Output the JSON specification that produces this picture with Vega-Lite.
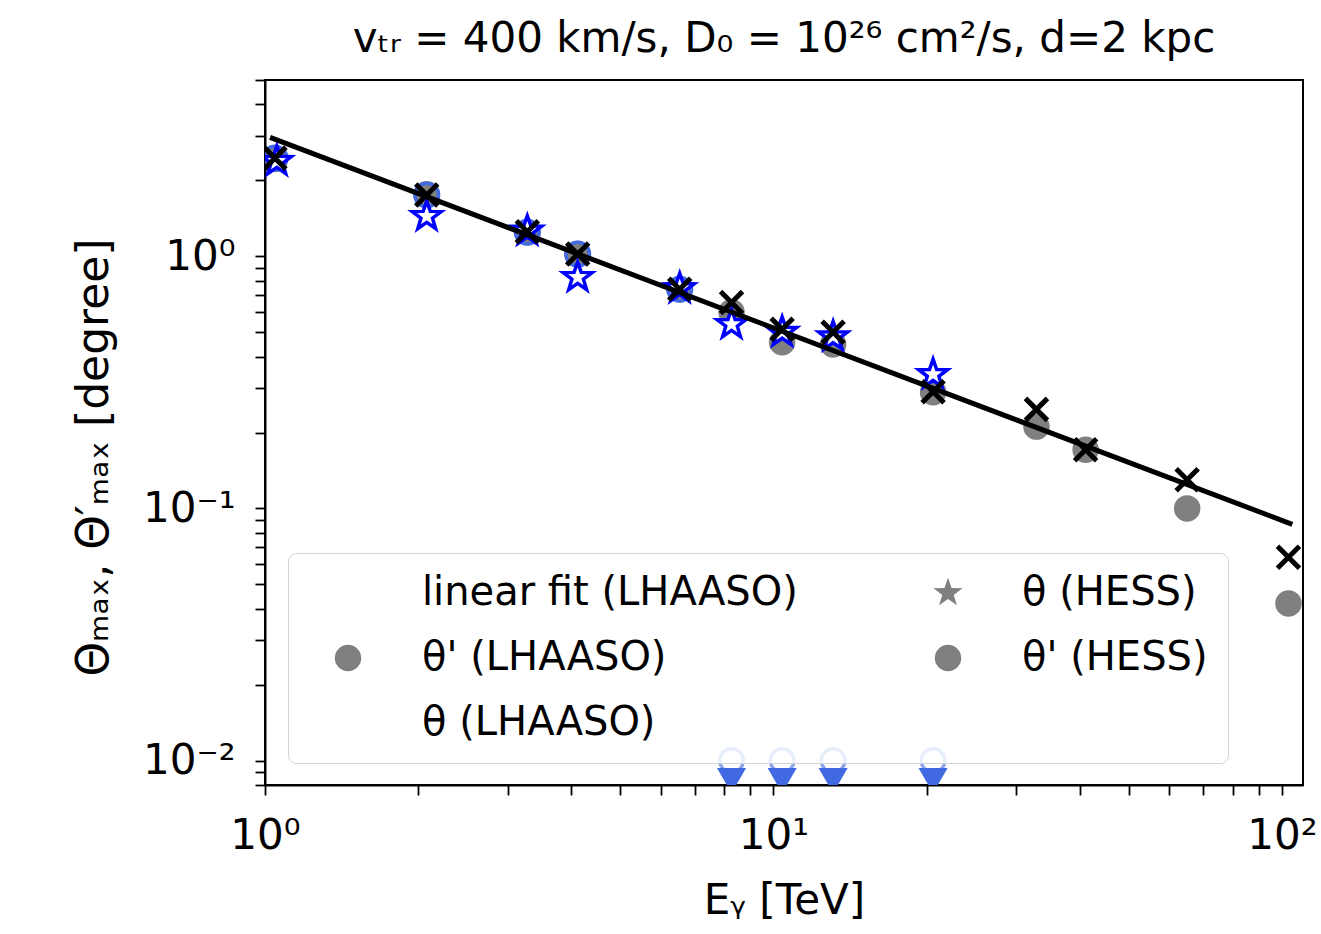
{
  "$schema": "https://vega.github.io/schema/vega-lite/v6.json",
  "width": 1038,
  "height": 705,
  "autosize": "none",
  "padding": {"left": 265, "top": 80, "right": 18, "bottom": 149},
  "background": "white",
  "config": {
    "font": "DejaVu Sans",
    "view": {"stroke": "black", "strokeWidth": 2},
    "axis": {"grid": false, "domainColor": "black", "domainWidth": 2, "tickColor": "black", "tickWidth": 1.8, "labelColor": "black", "titleColor": "black", "labelFont": "DejaVu Sans", "titleFont": "DejaVu Sans", "titleFontWeight": "normal", "labelFlush": false, "labelOverlap": false, "labelBound": false, "tickSize": 10}
  },
  "title": {"text": "vₜᵣ = 400 km/s, D₀ = 10²⁶ cm²/s, d=2 kpc", "fontSize": 42, "fontWeight": "normal", "font": "DejaVu Sans", "color": "black", "anchor": "middle", "offset": -2},
  "data": {"values": [
    {"E": 1.023, "theta": 2.96, "series": "linear fit (LHAASO)"},
    {"E": 104.8, "theta": 0.0865, "series": "linear fit (LHAASO)"},
    {"E": 1.046, "theta": 2.43, "series": "θ' (LHAASO)"},
    {"E": 2.08, "theta": 1.76, "series": "θ' (LHAASO)"},
    {"E": 3.28, "theta": 1.245, "series": "θ' (LHAASO)"},
    {"E": 4.12, "theta": 1.02, "series": "θ' (LHAASO)"},
    {"E": 6.54, "theta": 0.74, "series": "θ' (LHAASO)"},
    {"E": 8.27, "theta": 0.6, "series": "θ' (LHAASO)"},
    {"E": 10.4, "theta": 0.456, "series": "θ' (LHAASO)"},
    {"E": 13.1, "theta": 0.447, "series": "θ' (LHAASO)"},
    {"E": 20.6, "theta": 0.289, "series": "θ' (LHAASO)"},
    {"E": 32.9, "theta": 0.211, "series": "θ' (LHAASO)"},
    {"E": 41.1, "theta": 0.171, "series": "θ' (LHAASO)"},
    {"E": 65.1, "theta": 0.1, "series": "θ' (LHAASO)"},
    {"E": 103, "theta": 0.042, "series": "θ' (LHAASO)"},
    {"E": 1.046, "theta": 2.45, "series": "θ (LHAASO)"},
    {"E": 2.08, "theta": 1.75, "series": "θ (LHAASO)"},
    {"E": 3.28, "theta": 1.25, "series": "θ (LHAASO)"},
    {"E": 4.12, "theta": 1.02, "series": "θ (LHAASO)"},
    {"E": 6.54, "theta": 0.74, "series": "θ (LHAASO)"},
    {"E": 8.27, "theta": 0.656, "series": "θ (LHAASO)"},
    {"E": 10.4, "theta": 0.513, "series": "θ (LHAASO)"},
    {"E": 13.1, "theta": 0.5, "series": "θ (LHAASO)"},
    {"E": 20.6, "theta": 0.29, "series": "θ (LHAASO)"},
    {"E": 32.9, "theta": 0.247, "series": "θ (LHAASO)"},
    {"E": 41.1, "theta": 0.171, "series": "θ (LHAASO)"},
    {"E": 65.1, "theta": 0.13, "series": "θ (LHAASO)"},
    {"E": 103, "theta": 0.064, "series": "θ (LHAASO)"},
    {"E": 1.055, "theta": 2.38, "series": "θ (HESS)"},
    {"E": 2.08, "theta": 1.44, "series": "θ (HESS)"},
    {"E": 3.28, "theta": 1.26, "series": "θ (HESS)"},
    {"E": 4.12, "theta": 0.825, "series": "θ (HESS)"},
    {"E": 6.54, "theta": 0.745, "series": "θ (HESS)"},
    {"E": 8.27, "theta": 0.537, "series": "θ (HESS)"},
    {"E": 10.4, "theta": 0.5, "series": "θ (HESS)"},
    {"E": 13.1, "theta": 0.48, "series": "θ (HESS)"},
    {"E": 20.6, "theta": 0.34, "series": "θ (HESS)"},
    {"E": 1.046, "theta": 2.45, "series": "θ' (HESS)", "limit": false},
    {"E": 2.08, "theta": 1.75, "series": "θ' (HESS)", "limit": false},
    {"E": 3.28, "theta": 1.245, "series": "θ' (HESS)", "limit": false},
    {"E": 4.12, "theta": 1.02, "series": "θ' (HESS)", "limit": false},
    {"E": 6.54, "theta": 0.74, "series": "θ' (HESS)", "limit": false},
    {"E": 8.27, "theta": 0.01, "series": "θ' (HESS)", "limit": true},
    {"E": 10.4, "theta": 0.01, "series": "θ' (HESS)", "limit": true},
    {"E": 13.1, "theta": 0.01, "series": "θ' (HESS)", "limit": true},
    {"E": 20.6, "theta": 0.01, "series": "θ' (HESS)", "limit": true}
  ]},
  "encoding": {
    "x": {"field": "E", "type": "quantitative",
      "scale": {"type": "log", "domain": [1, 110], "nice": false},
      "axis": {"title": "Eᵧ [TeV]", "titleFontSize": 42, "titlePadding": 24, "labelFontSize": 42, "labelPadding": 20,
        "values": [1,2,3,4,5,6,7,8,9,10,20,30,40,50,60,70,80,90,100],
        "labelExpr": "abs(log(datum.value)/LN10 - round(log(datum.value)/LN10)) < 0.001 ? '10' + (round(log(datum.value)/LN10) == 0 ? '⁰' : round(log(datum.value)/LN10) == 1 ? '¹' : '²') : ''",
        "encode": {"ticks": {"y2": {"value": {"expr": "abs(log(datum.value)/LN10 - round(log(datum.value)/LN10)) < 0.001 ? 10 : 6"}}}}}},
    "y": {"field": "theta", "type": "quantitative",
      "scale": {"type": "log", "domain": [0.008, 5], "nice": false},
      "axis": {"title": "Θₘₐₓ, Θ′ₘₐₓ [degree]", "titleFontSize": 44, "titlePadding": 26, "titleY": 377, "labelFontSize": 42, "labelPadding": 20,
        "values": [0.008,0.009,0.01,0.02,0.03,0.04,0.05,0.06,0.07,0.08,0.09,0.1,0.2,0.3,0.4,0.5,0.6,0.7,0.8,0.9,1,2,3,4,5],
        "labelExpr": "abs(log(datum.value)/LN10 - round(log(datum.value)/LN10)) < 0.001 ? '10' + (round(log(datum.value)/LN10) == 0 ? '⁰' : round(log(datum.value)/LN10) == -1 ? '⁻¹' : '⁻²') : ''",
        "encode": {"ticks": {"x2": {"value": {"expr": "abs(log(datum.value)/LN10 - round(log(datum.value)/LN10)) < 0.001 ? -10 : -6"}}}}}}
  },
  "layer": [
    {
      "transform": [{"filter": "datum.series == \"θ' (LHAASO)\""}],
      "mark": {"type": "point", "filled": true, "color": "gray", "opacity": 1, "size": 700, "clip": true},
      "encoding": {"shape": {"field": "series", "type": "nominal",
        "scale": {"domain": ["linear fit (LHAASO)", "θ' (LHAASO)", "θ (LHAASO)", "θ (HESS)", "θ' (HESS)"],
                  "range": ["M-3.4,0L3.4,0", "circle", "M-0.75,-0.75L0.75,0.75M0.75,-0.75L-0.75,0.75", "M0,-1.15L0.27,-0.372L1.094,-0.355L0.437,0.142L0.676,0.93L0,0.46L-0.676,0.93L-0.437,0.142L-1.094,-0.355L-0.27,-0.372Z", "circle"]},
        "legend": {"title": null, "orient": "none", "legendX": 23, "legendY": 473, "columns": 2,
          "padding": 20, "rowPadding": 25, "columnPadding": 110, "clipHeight": 40, "labelLimit": 0,
          "symbolSize": 700, "symbolOffset": 20, "labelOffset": 54, "symbolStrokeWidth": 4,
          "labelFont": "DejaVu Sans", "labelFontSize": 40, "labelColor": "black",
          "fillColor": "rgba(255,255,255,0.8)", "strokeColor": "#d4d4d4", "cornerRadius": 8,
          "symbolFillColor": {"expr": "datum.value == 'θ (HESS)' ? 'white' : datum.value == \"θ' (LHAASO)\" ? 'gray' : 'transparent'"},
          "symbolStrokeColor": {"expr": "datum.value == 'θ (HESS)' ? 'blue' : datum.value == \"θ' (HESS)\" ? 'royalblue' : datum.value == \"θ' (LHAASO)\" ? 'transparent' : 'black'"}
        }}}
    },
    {
      "transform": [{"filter": "datum.series == \"θ' (HESS)\""}],
      "mark": {"type": "point", "filled": false, "color": "royalblue", "strokeWidth": 3.5, "size": 560, "clip": true},
      "encoding": {"shape": {"field": "series", "type": "nominal"},
        "opacity": {"condition": {"test": "datum.limit", "value": 0.6}, "value": 1}}
    },
    {
      "transform": [{"filter": "datum.limit == true"}],
      "mark": {"type": "point", "shape": "triangle-down", "filled": true, "color": "royalblue", "opacity": 1, "size": 850, "yOffset": 20, "clip": true}
    },
    {
      "transform": [{"filter": "datum.series == 'θ (HESS)'"}],
      "mark": {"type": "point", "filled": false, "fill": "white", "fillOpacity": 1, "stroke": "blue", "strokeWidth": 3.5, "size": 700, "opacity": 1, "clip": true},
      "encoding": {"shape": {"field": "series", "type": "nominal"}}
    },
    {
      "transform": [{"filter": "datum.series == 'θ (LHAASO)'"}],
      "mark": {"type": "point", "filled": false, "stroke": "black", "strokeWidth": 5, "size": 860, "opacity": 1, "clip": true},
      "encoding": {"shape": {"field": "series", "type": "nominal"}}
    },
    {
      "transform": [{"filter": "datum.series == 'linear fit (LHAASO)'"}],
      "mark": {"type": "line", "color": "black", "strokeWidth": 5, "clip": true},
      "encoding": {}
    }
  ]
}
